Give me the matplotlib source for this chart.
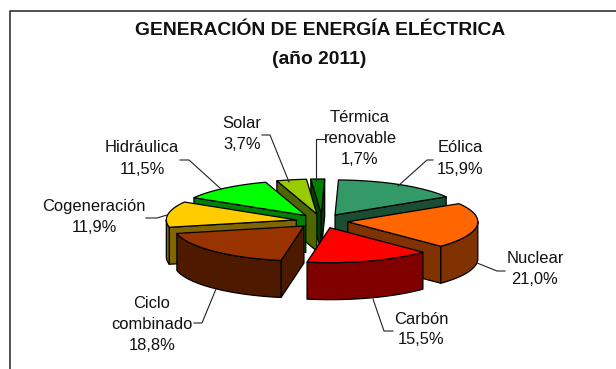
import numpy as np
import matplotlib
matplotlib.use('Agg')
import matplotlib.pyplot as plt
from matplotlib.patches import Polygon

plt.rcParams['font.family'] = ['Liberation Sans', 'DejaVu Sans']

# Datos
fuentes = ['Eólica', 'Nuclear', 'Carbón', 'Ciclo\ncombinado', 'Cogeneración',
           'Hidráulica', 'Solar', 'Térmica\nrenovable']
valores = [15.9, 21.0, 15.5, 18.8, 11.9, 11.5, 3.7, 1.7]
etiquetas = ['15,9%', '21,0%', '15,5%', '18,8%', '11,9%', '11,5%', '3,7%', '1,7%']
color_arriba = ['#339966', '#FF6600', '#FF0000', '#993300', '#FFCC00', '#00FF00', '#99CC00', '#008000']
color_lado = ['#1A4D33', '#803300', '#800000', '#4D1A00', '#806600', '#008000', '#4D6600', '#004000']

# posicion del texto y lineas guia (pixeles)
pos_texto = [(460, 158.5), (535, 269), (421, 329.5), (152, 324.5), (94, 217), (142, 158.5), (242, 134), (360, 138.5)]
guias = [[(398, 186), (427, 160), (433, 160)],
         [(477, 263), (497, 271), (505, 271)],
         [(373, 299), (384, 331), (393, 331)],
         [(216, 289), (202, 323), (194, 323)],
         [(167, 215), (157, 218), (146, 218)],
         [(221, 189), (189, 160), (180, 160)],
         [(289, 182), (270, 135), (262, 135)],
         [(316, 180), (316, 139), (324, 139)]]

cx, cy = 322, 221
rx, ry = 130, 35
alto = 37
explosion = 0.2
inicio = 1.5

fig = plt.figure(figsize=(6.16, 3.69), dpi=100)
ax = fig.add_axes([0, 0, 1, 1])
ax.set_xlim(0, 616)
ax.set_ylim(369, 0)
ax.axis('off')


def punto(t, x0, y0):
    return x0 + rx * np.sin(t), y0 - ry * np.cos(t)


def cara(pts, color, z):
    ax.add_patch(Polygon(pts, closed=True, facecolor=color, edgecolor='black', lw=0.9, joinstyle='round', zorder=z))


# marco
ax.plot([616, 10, 10], [11, 11, 369], color='#222222', lw=1.1, zorder=1)

# angulos de cada porcion
total = sum(valores)
limites = np.radians(inicio + np.cumsum([0] + valores) / total * 360)
medios = (limites[:-1] + limites[1:]) / 2

# se dibuja de atras hacia adelante
orden = np.argsort(-np.cos(medios))
for z, i in enumerate(orden):
    t0, t1, m = limites[i], limites[i + 1], medios[i]
    x0, y0 = punto(m, 0, 0)
    x0, y0 = cx + explosion * x0, cy + explosion * y0
    zz = 2 + z

    if np.sin(t0) < 0:
        px, py = punto(t0, x0, y0)
        cara([(x0, y0), (px, py), (px, py + alto), (x0, y0 + alto)], color_lado[i], zz)
    if np.sin(t1) > 0:
        px, py = punto(t1, x0, y0)
        cara([(x0, y0), (px, py), (px, py + alto), (x0, y0 + alto)], color_lado[i], zz)

    # borde exterior, solo la parte de frente
    a, b = max(t0, np.pi / 2), min(t1, 3 * np.pi / 2)
    if b > a:
        arco = np.linspace(a, b, 40)
        xs, ys = punto(arco, x0, y0)
        cara(list(zip(xs, ys)) + list(zip(xs[::-1], ys[::-1] + alto)), color_lado[i], zz)

    arco = np.linspace(t0, t1, 60)
    xs, ys = punto(arco, x0, y0)
    cara([(x0, y0)] + list(zip(xs, ys)), color_arriba[i], zz)

# titulo
ax.text(320, 30.5, 'GENERACIÓN DE ENERGÍA ELÉCTRICA', ha='center', va='center', fontsize=13.9, fontweight='bold', color='#111111')
ax.text(319, 59.5, '(año 2011)', ha='center', va='center', fontsize=13.9, fontweight='bold', color='#111111')

# etiquetas
for f, e, (x, y), g in zip(fuentes, etiquetas, pos_texto, guias):
    ax.text(x, y, f + '\n' + e, ha='center', va='center', fontsize=11.9, linespacing=1.5, color='#111111', zorder=30)
    ax.plot([p[0] for p in g], [p[1] for p in g], color='#222222', lw=0.8, zorder=29)

fig.savefig('out.png', dpi=100)
